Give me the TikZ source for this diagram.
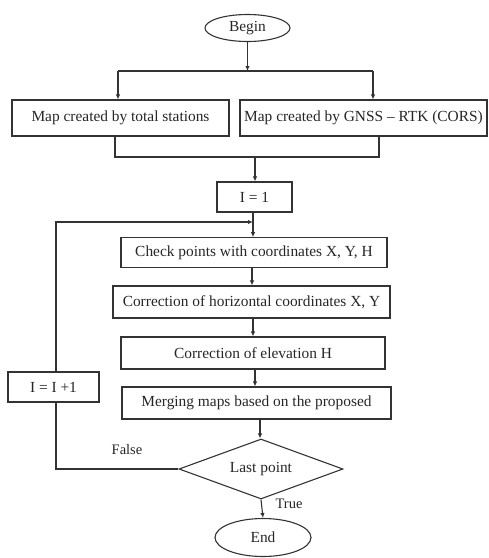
\documentclass[tikz,border=0pt]{standalone}
\usepackage{fontspec}
\setmainfont{Liberation Serif}
\usetikzlibrary{shapes.geometric,arrows.meta}
\begin{document}
\begin{tikzpicture}[x=1pt,y=-1pt,
  every node/.style={font=\fontsize{15.4}{17}\selectfont, text=black!85},
  box/.style={draw=black!80, line width=1.1pt, rectangle, inner sep=0pt},
  oval/.style={draw=black!80, line width=1.1pt, ellipse, inner sep=0pt},
  dia/.style={draw=black!80, line width=1.1pt, diamond, inner sep=0pt, aspect=2.73},
  ln/.style={draw=black!80, line width=1.1pt},
  arr/.style={ln, -{Latex[length=5pt,width=4.5pt]}},
  lbl/.style={font=\fontsize{14.5}{16}\selectfont}
]
\useasboundingbox (0,0) rectangle (489,558);
\node[oval, minimum width=85pt, minimum height=27pt] (begin) at (247.5,28) {Begin};
\node[box, minimum width=217pt, minimum height=36pt] (b1) at (120.5,118) {Map created by total stations};
\node[box, minimum width=247pt, minimum height=36pt] (b2) at (363.5,118) {Map created by GNSS -- RTK (CORS)};
\node[box, minimum width=75pt, minimum height=30pt] (i1) at (254.5,197) {I = 1};
\node[box, minimum width=266pt, minimum height=29.5pt] (check) at (254,252.5) {Check points with coordinates X, Y, H};
\node[box, minimum width=277pt, minimum height=32pt] (corrh) at (251.5,302) {Correction of horizontal coordinates X, Y};
\node[box, minimum width=264pt, minimum height=32pt] (corre) at (253,353) {Correction of elevation H};
\node[box, minimum width=269pt, minimum height=32pt] (merge) at (256.5,403) {Merging maps based on the proposed};
\node[dia, minimum width=164pt, minimum height=60pt] (last) at (261,469) {Last point};
\node[oval, minimum width=96pt, minimum height=38pt] (end) at (263,537.5) {End};
\node[box, minimum width=91pt, minimum height=30pt] (inc) at (53.5,387) {I = I +1};

\coordinate (jt) at (247.5,71);
\coordinate (jl) at (118,71);
\coordinate (jr) at (373,71);
\coordinate (bl) at (115,157);
\coordinate (br) at (379,157);
\coordinate (jb) at (255,157);
\coordinate (loopin) at (253,222);
\coordinate (incx) at (56,402);

\draw[arr] (begin.south) -- (jt);
\draw[ln] (jl) -- (jr);
\draw[arr] (jl) -- (jl |- b1.north);
\draw[arr] (jr) -- (jr |- b2.north);
\draw[ln] (bl |- b1.south) -- (bl) -- (br) -- (br |- b2.south);
\draw[arr] (jb) -- (jb |- i1.north);
\draw[arr] (loopin |- i1.south) -- (loopin |- check.north);
\draw[arr] (incx |- inc.north) |- (loopin);
\draw[arr] ([xshift=-2pt]check.south) -- ([xshift=-2pt]check.south |- corrh.north);
\draw[arr] ([xshift=1.5pt]corrh.south) -- ([xshift=1.5pt]corrh.south |- corre.north);
\draw[arr] ([xshift=2pt]corre.south) -- ([xshift=2pt]corre.south |- merge.north);
\draw[arr] ([xshift=3.5pt]merge.south) -- ([xshift=3.5pt]merge.south |- last.north);
\draw[ln] (last.west) -| (incx);
\draw[arr] (last.south) -- (end.north);
\node[lbl] (flabel) at (127,450) {False};
\node[lbl] (tlabel) at (289,504) {True};
\end{tikzpicture}
\end{document}
